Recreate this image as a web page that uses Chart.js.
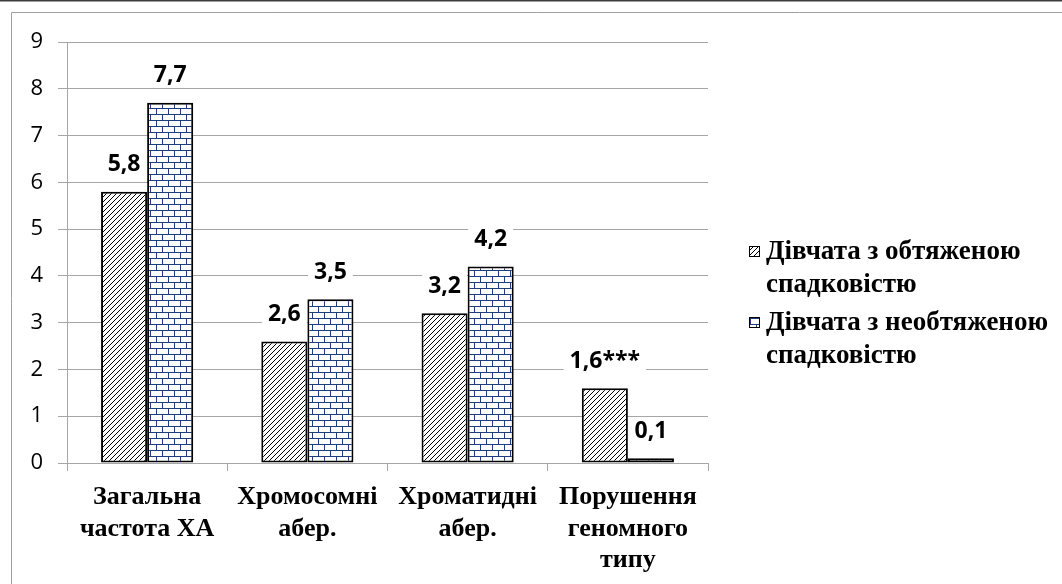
<!DOCTYPE html>
<html>
<head>
<meta charset="utf-8">
<script src="https://cdn.jsdelivr.net/npm/chart.js@4.4.1/dist/chart.umd.min.js"></script>
<style>
  html, body { margin: 0; padding: 0; background: #fff; }
  #wrap { position: relative; width: 1062px; height: 584px; }
</style>
</head>
<body>
<div id="wrap"><canvas id="c"></canvas></div>
<script>
const categories = [
  ['Загальна', 'частота ХА'],
  ['Хромосомні', 'абер.'],
  ['Хроматидні', 'абер.'],
  ['Порушення', 'геномного', 'типу']
];
const seriesNames = ['Дівчата з обтяженою спадковістю', 'Дівчата з необтяженою спадковістю'];
const legendLines = [['Дівчата з обтяженою', 'спадковістю'], ['Дівчата з необтяженою', 'спадковістю']];
const burdened = [5.8, 2.6, 3.2, 1.6];
const unburdened = [7.7, 3.5, 4.2, 0.1];
const burdenedMarks = ['', '', '', '***'];
const unburdenedMarks = ['', '', '', ''];
const yTicks = [0, 1, 2, 3, 4, 5, 6, 7, 8, 9];

function hatchPattern() {
  const s = 5;
  const c = document.createElement('canvas');
  c.width = s; c.height = s;
  const x = c.getContext('2d');
  x.fillStyle = '#fff'; x.fillRect(0, 0, s, s);
  x.strokeStyle = '#000'; x.lineWidth = 1;
  x.beginPath();
  x.moveTo(-1, s + 1); x.lineTo(s + 1, -1);
  x.moveTo(-1, 1); x.lineTo(1, -1);
  x.moveTo(s - 1, s + 1); x.lineTo(s + 1, s - 1);
  x.stroke();
  return x.createPattern(c, 'repeat');
}
function brickPattern() {
  const w = 12, h = 12;
  const c = document.createElement('canvas');
  c.width = w; c.height = h;
  const x = c.getContext('2d');
  x.fillStyle = '#fff'; x.fillRect(0, 0, w, h);
  x.strokeStyle = '#1f3c7e'; x.lineWidth = 1;
  x.beginPath();
  x.moveTo(0, 0.5); x.lineTo(w, 0.5);
  x.moveTo(0, 6.5); x.lineTo(w, 6.5);
  x.moveTo(0.5, 0); x.lineTo(0.5, 6.5);
  x.moveTo(6.5, 6.5); x.lineTo(6.5, 12);
  x.stroke();
  return x.createPattern(c, 'repeat');
}
const hatch = hatchPattern();
const brick = brickPattern();
const marks = [burdenedMarks, unburdenedMarks];
const fills = [hatch, brick];

const framePlugin = {
  id: 'frame',
  beforeDraw(chart) {
    const ctx = chart.ctx;
    ctx.save();
    ctx.fillStyle = '#fff';
    ctx.fillRect(0, 0, chart.width, chart.height);
    ctx.fillStyle = '#3c3c3c';
    ctx.fillRect(0, 0, chart.width, 1.5);
    ctx.strokeStyle = '#a0a0a0';
    ctx.lineWidth = 1;
    ctx.beginPath();
    ctx.moveTo(11.5, chart.height); ctx.lineTo(11.5, 12.5); ctx.lineTo(chart.width, 12.5);
    ctx.stroke();
    ctx.restore();
  }
};

const labelPlugin = {
  id: 'vlabels',
  afterDatasetsDraw(chart) {
    const ctx = chart.ctx;
    ctx.save();
    ctx.font = 'bold 23px "Open Sans"';
    ctx.textAlign = 'center';
    ctx.textBaseline = 'middle';
    chart.data.datasets.forEach((ds, di) => {
      const meta = chart.getDatasetMeta(di);
      meta.data.forEach((el, i) => {
        const txt = ds.data[i].toFixed(1).replace('.', ',') + marks[di][i];
        const w = ctx.measureText(txt).width;
        const cy = el.y - 28;
        ctx.fillStyle = '#fff';
        ctx.fillRect(el.x - w / 2 - 6, cy - 13, w + 12, 26);
        ctx.fillStyle = '#000';
        ctx.fillText(txt, el.x, cy + 1);
      });
    });
    ctx.restore();
  }
};

const legendPlugin = {
  id: 'customLegend',
  afterDraw(chart) {
    const ctx = chart.ctx;
    ctx.save();
    ctx.font = 'bold 27px "Liberation Serif"';
    ctx.textBaseline = 'middle';
    ctx.textAlign = 'left';
    const starts = [251, 322];
    legendLines.forEach((lines, i) => {
      const y0 = starts[i];
      ctx.fillStyle = fills[i];
      ctx.fillRect(749, y0 - 5, 11, 11);
      ctx.strokeStyle = '#000';
      ctx.lineWidth = 1;
      ctx.strokeRect(749.5, y0 - 4.5, 10, 10);
      ctx.fillStyle = '#000';
      lines.forEach((ln, k) => ctx.fillText(ln, 766, y0 + 1 + k * 33));
    });
    ctx.restore();
  }
};

new Chart(document.getElementById('c'), {
  type: 'bar',
  data: {
    labels: categories,
    datasets: [
      { label: seriesNames[0], data: burdened, backgroundColor: hatch, borderColor: '#000', borderWidth: 2, borderSkipped: false },
      { label: seriesNames[1], data: unburdened, backgroundColor: brick, borderColor: '#000', borderWidth: 2, borderSkipped: false }
    ]
  },
  options: {
    responsive: true,
    maintainAspectRatio: false,
    animation: false,
    datasets: { bar: { categoryPercentage: 0.575, barPercentage: 1 } },
    layout: { padding: { left: 12, right: 354, top: 42, bottom: 0 } },
    plugins: {
      legend: { display: false },
      tooltip: { enabled: false }
    },
    scales: {
      x: {
        grid: { display: true, drawOnChartArea: false, drawTicks: true, tickLength: 8, color: '#a6a6a6', offset: true },
        border: { display: true, color: '#a6a6a6', width: 1 },
        ticks: { color: '#000', font: { family: 'Liberation Serif', weight: 'bold', size: 26, lineHeight: 1.2 }, padding: 11, maxRotation: 0, autoSkip: false },
        afterFit(scale) { scale.height = 121; }
      },
      y: {
        min: 0, max: 9,
        afterBuildTicks(scale) { scale.ticks = yTicks.map(v => ({ value: v })); },
        grid: { color: '#a6a6a6', tickLength: 9, lineWidth: 1 },
        border: { display: true, color: '#a6a6a6', width: 1 },
        ticks: { color: '#000', font: { family: 'Open Sans', size: 22 }, padding: 15 },
        afterFit(scale) { scale.width = 55; }
      }
    }
  },
  plugins: [framePlugin, labelPlugin, legendPlugin]
});
</script>
</body>
</html>
